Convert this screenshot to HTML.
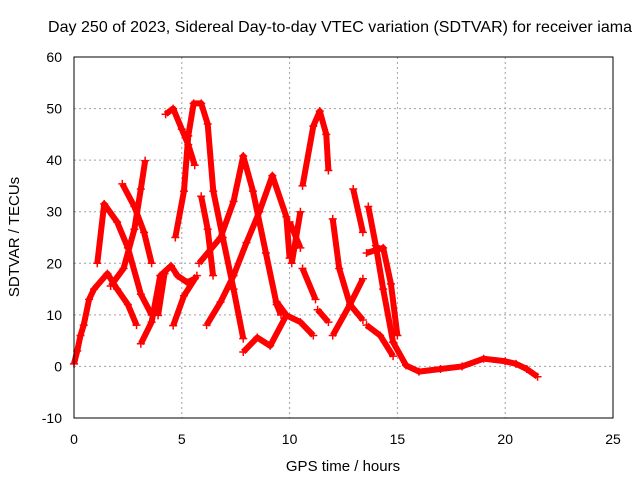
<!DOCTYPE html>
<html><head><meta charset="utf-8"><style>
body{margin:0;background:#fff;}
svg{display:block;font-family:"Liberation Sans",sans-serif;}
</style></head><body>
<svg id="chart" width="640" height="480">
<rect width="640" height="480" fill="#fff"/>
<text x="340" y="32" text-anchor="middle" font-size="16" textLength="584">Day 250 of 2023, Sidereal Day-to-day VTEC variation (SDTVAR) for receiver iama</text>
<g id="grid"></g>
<g id="marks"></g>
<rect x="74" y="57" width="539" height="361" fill="none" stroke="#000" stroke-width="1"/>
<g id="ticks"></g>
<text x="343" y="471" text-anchor="middle" font-size="15">GPS time / hours</text>
<text x="0" y="0" transform="translate(19,237) rotate(-90)" text-anchor="middle" font-size="15">SDTVAR / TECUs</text>
</svg>
<script>
const xTicks=[0,5,10,15,20,25];
const yTicks=[-10,0,10,20,30,40,50,60];
const arcA=[[0,0.5],[0.15,3],[0.3,6],[0.45,8],[0.7,13],[0.93,15],[1.55,18],[2.0,15],[2.5,12],[2.9,8]];
const arcB=[[1.08,20],[1.4,31.5],[2.0,28],[2.5,23],[3.1,14],[3.6,10]];
const arcC=[[2.24,35.4],[2.8,31],[3.25,26],[3.6,20]];
const arcE=[[1.7,15.6],[2.3,19],[2.8,26.6],[3.1,34.4],[3.3,39.9]];
const arcF=[[3.1,4.4],[3.6,8.6],[4.0,17.6],[4.5,19.5],[4.8,17.6],[5.25,16.3],[5.6,17]];
const arcF2=[[3.9,9.9],[4.2,18]];
const arcF3=[[4.6,7.9],[5.1,13.7],[5.7,17.6]];
const arcH=[[4.25,48.9],[4.6,50],[5.0,46],[5.3,43],[5.6,39]];
const arcI=[[4.7,25],[5.1,34],[5.3,44.7],[5.55,51],[5.9,51],[6.2,47],[6.46,34],[6.9,25],[7.4,15],[7.85,5.4]];
const arcJ=[[5.9,33],[6.2,26.6],[6.45,17.6]];
const arcK=[[5.8,20],[6.8,25],[7.4,32],[7.85,40.8],[8.3,34],[8.9,22],[9.4,12],[9.6,10]];
const arcL=[[6.15,8],[6.8,12.5],[7.4,17.6],[8.0,24],[8.6,30],[9.2,37],[9.85,29],[10.0,21]];
const arcN=[[7.85,2.8],[8.5,5.6],[9.1,4],[9.86,10]];
const arcN2=[[9.4,12.5],[9.86,9.9],[10.5,8.6],[11.1,6]];
const arcP=[[10.1,20],[10.5,30]];
const arcP2=[[10.0,28],[10.5,23]];
const arcP3=[[10.6,19],[11.2,13]];
const arcP4=[[11.3,11],[11.8,8.6]];
const arcO=[[10.6,35],[11.1,46.6],[11.4,49.5],[11.7,45],[11.8,38]];
const arcQ2=[[12.0,28.6],[12.3,19],[12.8,12],[13.4,9]];
const arcQ=[[12.0,6],[12.8,12],[13.4,17]];
const arcQ3=[[12.95,34.4],[13.4,26]];
const arcR=[[13.65,31],[14.0,23.4],[14.34,15],[14.8,4.7],[15.4,0.2],[16.0,-1],[17.0,-0.5],[18.0,0],[19.0,1.5],[20.0,1],[20.5,0.5],[21.0,-0.5],[21.5,-2]];
const arcS=[[13.57,22],[14.34,23],[14.7,16],[15.0,6]];
const arcT=[[13.57,8],[14.2,6],[14.8,2]];
const series=[arcA,arcB,arcC,arcE,arcF,arcF2,arcF3,arcH,arcI,arcJ,arcK,arcL,arcN,arcN2,arcP,arcP2,arcP3,arcP4,arcO,arcQ2,arcQ,arcQ3,arcR,arcS,arcT];
const NS='http://www.w3.org/2000/svg';
const X=t=>74+t*539/25;
const Y=v=>418-(v+10)*361/70;
const grid=document.getElementById('grid'),ticks=document.getElementById('ticks'),marks=document.getElementById('marks');
function mk(tag,at,parent){const e=document.createElementNS(NS,tag);for(const k in at)e.setAttribute(k,at[k]);parent.appendChild(e);return e;}
xTicks.forEach(t=>{
  const g=mk('line',{x1:X(t),x2:X(t),y1:57,y2:418,stroke:'#a0a0a0','stroke-dasharray':'2,3'},grid);
  
  
  const l=mk('text',{x:X(t),y:444,'text-anchor':'middle','font-size':14},ticks);l.textContent=t;
  
  
});
yTicks.forEach(v=>{
  const g=mk('line',{x1:74,x2:613,y1:Y(v),y2:Y(v),stroke:'#a0a0a0','stroke-dasharray':'2,3'},grid);
  
  
  const l=mk('text',{x:62,y:Y(v)+5,'text-anchor':'end','font-size':14},ticks);l.textContent=v;
  
  
});
series.forEach(s=>{
  const p=mk('polyline',{points:s.map(d=>X(d[0])+','+Y(d[1])).join(' '),fill:'none',stroke:'#f00','stroke-width':6,'stroke-linejoin':'round','stroke-linecap':'butt'},marks);
  
  
  s.forEach(d=>{
    const m=mk('path',{d:`M${X(d[0])-4},${Y(d[1])}h8M${X(d[0])},${Y(d[1])-4}v8`,stroke:'#f00','stroke-width':1.5},marks);
    
    
  });
});
</script>
</body></html>
